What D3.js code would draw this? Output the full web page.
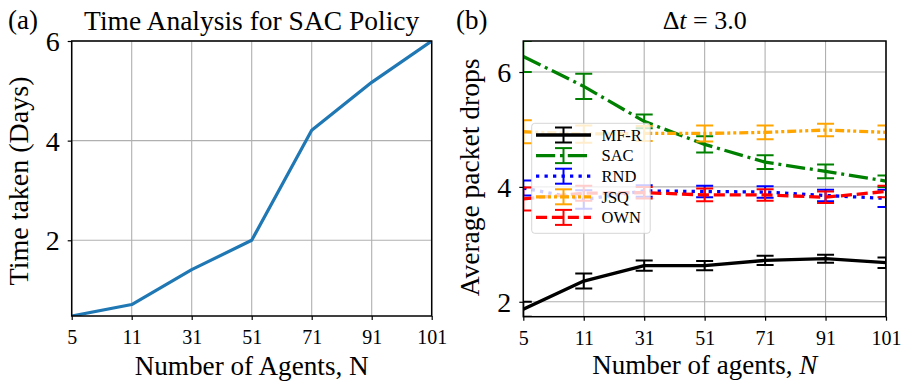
<!DOCTYPE html>
<html>
<head>
<meta charset="utf-8">
<script src="https://cdn.jsdelivr.net/npm/d3@7"></script>
<style>
  html, body { margin: 0; padding: 0; background: #ffffff; }
  svg { display: block; font-family: "Liberation Serif", "DejaVu Serif", serif; }
  .grid line { stroke: #b0b0b0; stroke-width: 1.1; }
  .axis path { display: none; }
  .axis line { stroke: #000; stroke-width: 1.2; }
  .axis text { fill: #000; font-family: "Liberation Serif", serif; }
</style>
</head>
<body>
<svg id="fig" width="901" height="383"></svg>
<script>
// Agent counts shared by both panels
const agents = ["5", "11", "31", "51", "71", "91", "101"];

// Panel (a): wall-clock training time of the SAC policy, in days
const sacDays = [0.48, 0.71, 1.41, 2.0, 4.21, 5.17, 6.0];
const timeTicks = [2, 4, 6];

// Panel (b): average packet drops per policy, with error bars
const mfrMean = [1.87, 2.36, 2.63, 2.63, 2.72, 2.75, 2.68];
const mfrErr  = [0.13, 0.13, 0.09, 0.08, 0.08, 0.07, 0.09];
const sacMean = [6.27, 5.75, 5.14, 4.74, 4.43, 4.27, 4.10];
const sacErr  = [0.27, 0.22, 0.12, 0.14, 0.12, 0.12, 0.10];
const rndMean = [3.98, 3.78, 3.93, 3.92, 3.91, 3.85, 3.80];
const rndErr  = [0.13, 0.16, 0.10, 0.10, 0.10, 0.10, 0.15];
const jsqMean = [4.96, 4.92, 4.93, 4.93, 4.95, 4.99, 4.95];
const jsqErr  = [0.20, 0.15, 0.13, 0.14, 0.12, 0.11, 0.12];
const ownMean = [3.79, 3.89, 3.90, 3.86, 3.86, 3.82, 3.92];
const ownErr  = [0.20, 0.13, 0.10, 0.11, 0.10, 0.10, 0.10];
const dropTicks = [2, 4, 6];

const policies = [
  { name: "MF-R", mean: mfrMean, err: mfrErr, color: "#000000", dash: null },
  { name: "SAC",  mean: sacMean, err: sacErr, color: "#008000", dash: "19.2,4.8,3,4.8" },
  { name: "RND",  mean: rndMean, err: rndErr, color: "#0000ff", dash: "3.3,5.2" },
  { name: "JSQ",  mean: jsqMean, err: jsqErr, color: "#ffa500", dash: "9,3,3,3,3,3" },
  { name: "OWN",  mean: ownMean, err: ownErr, color: "#ff0000", dash: "11.1,4.8" }
];

const svg = d3.select("#fig");

function frame(g, x0, x1, y0, y1) {
  g.append("rect")
    .attr("x", x0).attr("y", y0)
    .attr("width", x1 - x0).attr("height", y1 - y0)
    .attr("fill", "none").attr("stroke", "#000").attr("stroke-width", 1.5);
}

function panel(opts) {
  const { x0, x1, y0, y1, yDomain, yTicks, id } = opts;
  const g = svg.append("g");
  const x = d3.scalePoint().domain(agents).range([x0, x1]).padding(0);
  const y = d3.scaleLinear().domain(yDomain).range([y1, y0]);

  // grid
  const grid = g.append("g").attr("class", "grid");
  grid.selectAll("line.v").data(agents).join("line").attr("class", "v")
    .attr("x1", d => x(d)).attr("x2", d => x(d)).attr("y1", y0).attr("y2", y1);
  grid.selectAll("line.h").data(yTicks).join("line").attr("class", "h")
    .attr("x1", x0).attr("x2", x1).attr("y1", d => y(d)).attr("y2", d => y(d));

  // clip to plotting area
  svg.append("clipPath").attr("id", id)
    .append("rect").attr("x", x0).attr("y", y0)
    .attr("width", x1 - x0).attr("height", y1 - y0);
  const plot = g.append("g").attr("clip-path", `url(#${id})`);

  // axes
  const xAxis = g.append("g").attr("class", "axis")
    .attr("transform", `translate(0,${y1})`)
    .call(d3.axisBottom(x).tickSize(4).tickPadding(10));
  xAxis.selectAll("text").attr("font-size", 20).attr("dy", "0.72em");

  const yAxis = g.append("g").attr("class", "axis")
    .attr("transform", `translate(${x0},0)`)
    .call(d3.axisLeft(y).tickValues(yTicks).tickFormat(d3.format("d")).tickSize(4).tickPadding(8));
  yAxis.selectAll("text").attr("font-size", 28).attr("dy", "0.34em");

  return { g, plot, x, y };
}

// ---------- Panel (a) ----------
const A = panel({ x0: 71.7, x1: 431.7, y0: 41, y1: 316, yDomain: [0.48, 6], yTicks: timeTicks, id: "clipA" });
A.plot.append("path")
  .datum(sacDays)
  .attr("fill", "none").attr("stroke", "#1f77b4").attr("stroke-width", 3.2)
  .attr("stroke-linejoin", "round").attr("stroke-linecap", "square")
  .attr("d", d3.line().x((d, i) => A.x(agents[i])).y(d => A.y(d)));
frame(A.g, 71.7, 431.7, 41, 316);

A.g.append("text").attr("x", 251.7).attr("y", 30).attr("text-anchor", "middle")
  .attr("font-size", 27.5).text("Time Analysis for SAC Policy");
A.g.append("text").attr("x", 251.7).attr("y", 375).attr("text-anchor", "middle")
  .attr("font-size", 27.2).text("Number of Agents, N");
A.g.append("text").attr("transform", "translate(28,181) rotate(-90)").attr("text-anchor", "middle")
  .attr("font-size", 28).text("Time taken (Days)");
A.g.append("text").attr("x", 8).attr("y", 29).attr("font-size", 27).text("(a)");

// ---------- Panel (b) ----------
const B = panel({ x0: 523.3, x1: 886, y0: 41, y1: 316.7, yDomain: [1.74, 6.54], yTicks: dropTicks, id: "clipB" });
const cap = 8.5;
policies.forEach(p => {
  const s = B.plot.append("g");
  const line = s.append("path")
    .datum(p.mean)
    .attr("fill", "none").attr("stroke", p.color).attr("stroke-width", 3.3)
    .attr("stroke-linejoin", "round")
    .attr("d", d3.line().x((d, i) => B.x(agents[i])).y(d => B.y(d)));
  if (p.dash) line.attr("stroke-dasharray", p.dash);
  const bars = s.selectAll("g.eb").data(p.mean).join("g").attr("class", "eb");
  bars.append("line")
    .attr("x1", (d, i) => B.x(agents[i])).attr("x2", (d, i) => B.x(agents[i]))
    .attr("y1", (d, i) => B.y(d - p.err[i])).attr("y2", (d, i) => B.y(d + p.err[i]))
    .attr("stroke", p.color).attr("stroke-width", 2);
  [-1, 1].forEach(sgn => {
    bars.append("line")
      .attr("x1", (d, i) => B.x(agents[i]) - cap).attr("x2", (d, i) => B.x(agents[i]) + cap)
      .attr("y1", (d, i) => B.y(d + sgn * p.err[i])).attr("y2", (d, i) => B.y(d + sgn * p.err[i]))
      .attr("stroke", p.color).attr("stroke-width", 2);
  });
});

// legend
const leg = B.g.append("g");
leg.append("rect").attr("x", 531.7).attr("y", 123.3).attr("width", 118.5).attr("height", 110)
  .attr("rx", 3).attr("fill", "#ffffff").attr("fill-opacity", 0.8)
  .attr("stroke", "#cccccc").attr("stroke-opacity", 0.8).attr("stroke-width", 1);
policies.forEach((p, k) => {
  const cy = 135 + k * 20.6;
  const hl = leg.append("line").attr("x1", 536).attr("x2", 591).attr("y1", cy).attr("y2", cy)
    .attr("stroke", p.color).attr("stroke-width", 3.3);
  if (p.dash) hl.attr("stroke-dasharray", p.dash);
  leg.append("line").attr("x1", 563.5).attr("x2", 563.5).attr("y1", cy - 7.5).attr("y2", cy + 7.5)
    .attr("stroke", p.color).attr("stroke-width", 2);
  [-7.5, 7.5].forEach(o => leg.append("line").attr("x1", 563.5 - cap).attr("x2", 563.5 + cap)
    .attr("y1", cy + o).attr("y2", cy + o).attr("stroke", p.color).attr("stroke-width", 2));
  leg.append("text").attr("x", 601.5).attr("y", cy + 5.8).attr("font-size", 16.5).text(p.name);
});
frame(B.g, 523.3, 886, 41, 316.7);

const tt = B.g.append("text").attr("x", 704.7).attr("y", 28.5).attr("text-anchor", "middle").attr("font-size", 26);
tt.append("tspan").text("Δ");
tt.append("tspan").attr("font-style", "italic").text("t");
tt.append("tspan").text(" = 3.0");
const xl = B.g.append("text").attr("x", 704.7).attr("y", 374).attr("text-anchor", "middle").attr("font-size", 27);
xl.append("tspan").text("Number of agents, ");
xl.append("tspan").attr("font-style", "italic").text("N");
B.g.append("text").attr("transform", "translate(479,177.5) rotate(-90)").attr("text-anchor", "middle")
  .attr("font-size", 27.5).text("Average packet drops");
B.g.append("text").attr("x", 456).attr("y", 29).attr("font-size", 27).text("(b)");
</script>
</body>
</html>
